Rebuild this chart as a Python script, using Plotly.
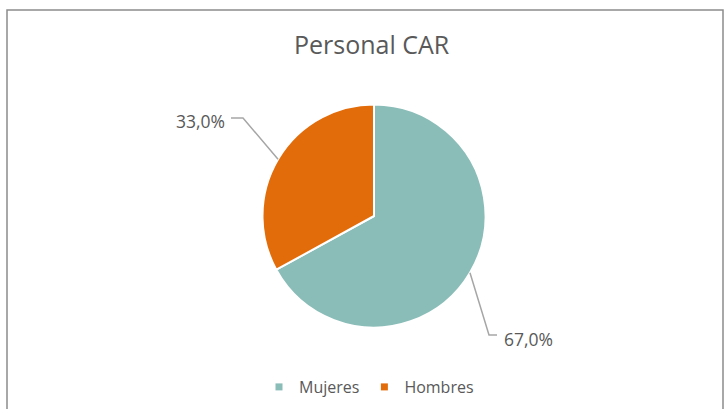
import math
import plotly.graph_objects as go

W, H = 728, 409

title_text = "Personal CAR"
categories = ["Mujeres", "Hombres"]
values = [67.0, 33.0]
colors = ["#8ABDB8", "#E36C0A"]

# pie geometry (pixels)
cx, cy, R = 374, 216, 111.5
FONT = "Open Sans, Noto Sans, sans-serif"

def px(x):
    return x / W

def py(y):
    return 1 - y / H

fig = go.Figure()
fig.add_trace(go.Pie(
    labels=categories,
    values=values,
    sort=False,
    direction="clockwise",
    rotation=0,
    textinfo="none",
    hoverinfo="label+percent",
    showlegend=False,
    marker=dict(colors=colors, line=dict(color="white", width=2)),
    domain=dict(x=[px(cx - R), px(cx + R)], y=[py(cy + R), py(cy - R)]),
))

# legend entries with small square markers
for cat, col in zip(categories, colors):
    fig.add_trace(go.Scatter(x=[None], y=[None], mode="markers", name=cat,
                             marker=dict(symbol="square", size=7, color=col),
                             hoverinfo="skip"))

# label offsets (layout): elbow and label anchors
label_layout = {
    "Hombres": dict(elbow=(243, 118), end=(231, 118), text=(227, 121), anchor="right"),
    "Mujeres": dict(elbow=(489, 335), end=(497, 335), text=(502, 339), anchor="left"),
}

shapes = [dict(type="rect", xref="paper", yref="paper",
               x0=px(7), x1=px(723), y0=py(430), y1=py(10),
               line=dict(color="#8C8C8C", width=1.5), fillcolor="rgba(0,0,0,0)")]
annotations = []
total = sum(values)
cum = 0.0
for cat, v in zip(categories, values):
    mid = (cum + v / 2) / total * 2 * math.pi
    cum += v
    ex = cx + R * math.sin(mid)
    ey = cy - R * math.cos(mid)
    L = label_layout[cat]
    path = f"M {px(ex)} {py(ey)} L {px(L['elbow'][0])} {py(L['elbow'][1])} L {px(L['end'][0])} {py(L['end'][1])}"
    shapes.append(dict(type="path", xref="paper", yref="paper", path=path,
                       line=dict(color="#A6A6A6", width=1.5)))
    pct = v / total * 100
    annotations.append(dict(
        x=px(L["text"][0]), y=py(L["text"][1]), xref="paper", yref="paper",
        text=f"{pct:.1f}%".replace(".", ","), showarrow=False,
        xanchor=L["anchor"], yanchor="middle",
        font=dict(family=FONT, size=17.5, color="#595959"),
    ))

annotations.append(dict(
    x=px(372), y=py(44), xref="paper", yref="paper", text=title_text,
    showarrow=False, xanchor="center", yanchor="middle",
    font=dict(family=FONT, size=25, color="#595959"),
))

fig.update_layout(
    width=W, height=H,
    margin=dict(l=0, r=0, t=0, b=0),
    paper_bgcolor="white",
    plot_bgcolor="white",
    xaxis=dict(visible=False),
    yaxis=dict(visible=False),
    shapes=shapes,
    annotations=annotations,
    showlegend=True,
    legend=dict(orientation="h", x=px(369), xanchor="center", y=py(387), yanchor="middle",
                font=dict(family=FONT, size=16, color="#595959"),
                itemwidth=30, traceorder="normal"),
)

fig.write_html("out.html", config={"displayModeBar": False},
               post_script="document.body.style.margin='0';")
